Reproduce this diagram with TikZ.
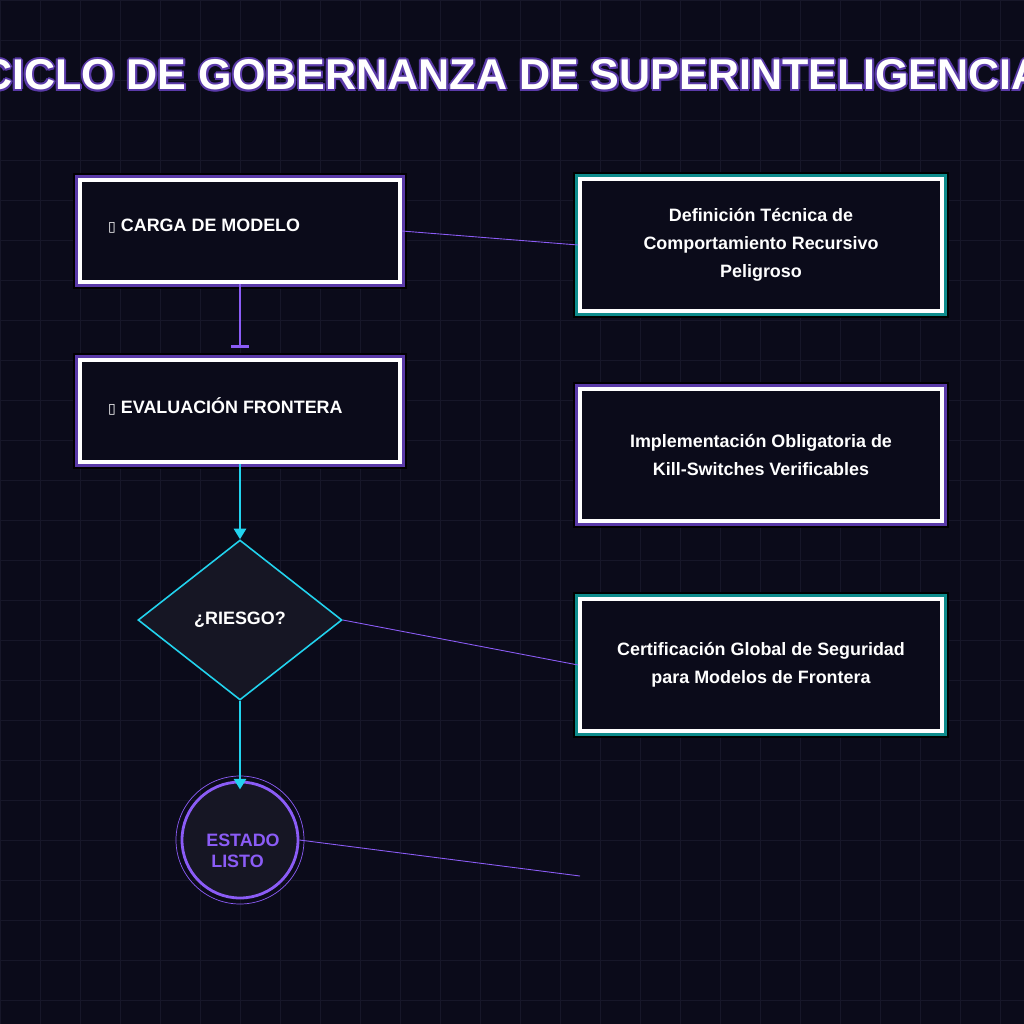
\documentclass[tikz,border=0pt]{standalone}
\usepackage{fontspec}
\setmainfont{Liberation Sans}
\newfontfamily\symfont{DejaVu Sans}
\usetikzlibrary{shapes.geometric,arrows.meta}
\definecolor{bgcol}{HTML}{0B0B1A}
\definecolor{gridcol}{HTML}{171729}
\definecolor{violet}{HTML}{8B5CF6}
\definecolor{darkviolet}{HTML}{5A3AA8}
\definecolor{teal}{HTML}{0E8C8C}
\definecolor{cyanline}{HTML}{22D3EE}
\definecolor{nodefill}{HTML}{161624}
\tikzset{
  stepbox/.style={draw=white,line width=2.2pt,fill=bgcol,minimum width=320*0.02cm,minimum height=102*0.02cm,
    text=white,font=\bfseries\fontsize{10.2}{12}\selectfont},
  glowpurple/.style={preaction={draw=black,line width=8.5pt},preaction={draw=darkviolet,line width=6pt}},
  glowteal/.style={preaction={draw=black,line width=8.5pt},preaction={draw=teal,line width=6pt}},
  infobox/.style={draw=white,line width=2.2pt,fill=bgcol,minimum width=362*0.02cm,minimum height=132*0.02cm,
    text=white,align=center,font=\bfseries\fontsize{10.2}{16}\selectfont},
  link/.style={violet,line width=0.5pt}
}
\begin{document}
\begin{tikzpicture}[x=0.02cm,y=-0.02cm]
  % background and grid
  \fill[bgcol] (0,0) rectangle (1024,1024);
  \useasboundingbox (0,0) rectangle (1024,1024);
  \foreach \g in {0,40,...,1000} {
    \draw[gridcol,line width=0.5pt] (\g,0) -- (\g,1024);
    \draw[gridcol,line width=0.5pt] (0,\g) -- (1024,\g);
  }
  % title
  \begin{scope}
    \clip (0,0) rectangle (1024,1024);
    \foreach \dx/\dy in {-2/0,2/0,0/-2,0/2,-1.5/-1.5,1.5/1.5,-1.5/1.5,1.5/-1.5}
      \node[text=darkviolet,font=\bfseries\fontsize{24.5}{30}\selectfont] at (512+\dx,75+\dy) {CICLO DE GOBERNANZA DE SUPERINTELIGENCIA};
    \node[text=white,font=\bfseries\fontsize{24.5}{30}\selectfont] (title) at (512,75) {CICLO DE GOBERNANZA DE SUPERINTELIGENCIA};
  \end{scope}
  % flow nodes
  \node[stepbox,glowpurple] (carga) at (240,231) {};
  \node[anchor=west,text=white,font=\bfseries\fontsize{10.2}{12}\selectfont] at (102,226) {{\symfont\fontsize{8}{9}\selectfont ▯} CARGA DE MODELO};
  \node[stepbox,glowpurple] (eval) at (240,411) {};
  \node[anchor=west,text=white,font=\bfseries\fontsize{10.2}{12}\selectfont] at (102,406) {{\symfont\fontsize{8}{9}\selectfont ▯} EVALUACIÓN FRONTERA};
  \node[diamond,draw=cyanline,line width=0.9pt,fill=nodefill,minimum width=204*0.02cm,minimum height=160*0.02cm,
    inner sep=0pt,text=white,font=\bfseries\fontsize{10.2}{12}\selectfont] (riesgo) at (240,620) {¿RIESGO?};
  \node[circle,draw=violet,line width=1.6pt,fill=nodefill,minimum size=116*0.02cm,inner sep=0pt] (listo) at (240,840) {};
  \node[text=violet,align=left,font=\bfseries\fontsize{10.2}{12}\selectfont] at (243,851) {ESTADO\\ \ LISTO};
  \draw[violet,line width=0.4pt] (listo.center) circle (64);
  % info boxes
  \node[infobox,glowteal] (def) at (761,245) {Definición Técnica de\\Comportamiento Recursivo\\Peligroso};
  \node[infobox,glowpurple] (kill) at (761,455) {Implementación Obligatoria de\\Kill-Switches Verificables};
  \node[infobox,glowteal] (cert) at (761,665) {Certificación Global de Seguridad\\para Modelos de Frontera};
  \coordinate (free) at (580,876);
  % connectors
  \draw[violet,line width=1.2pt,-{Bar[width=10pt,line width=1.5pt]}] (carga.south) -- ([yshift=6]eval.north);
  \draw[cyanline,line width=1.2pt,-{Triangle[width=7pt,length=6pt]}] (eval.south) -- (riesgo.north);
  \draw[cyanline,line width=1.2pt,-{Triangle[width=7pt,length=6pt]}] (riesgo.south) -- ([yshift=-5]listo.north);
  \draw[link] (carga.east) -- (def.west);
  \draw[link] (riesgo.east) -- (cert.west);
  \draw[link] (listo.east) -- (free);
\end{tikzpicture}
\end{document}
